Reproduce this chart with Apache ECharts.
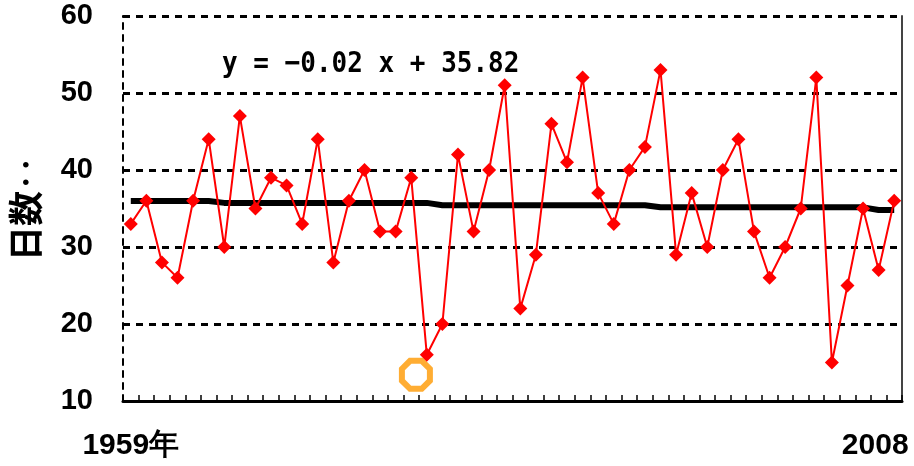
<!DOCTYPE html>
<html>
<head>
<meta charset="utf-8">
<script src="https://cdn.jsdelivr.net/npm/echarts@6/dist/echarts.min.js"></script>
<style>html,body{margin:0;padding:0;background:#fff;}#c{width:914px;height:466px;}</style>
</head>
<body>
<div id="c"></div>
<script>
const years = ['1959','1960','1961','1962','1963','1964','1965','1966','1967','1968',
  '1969','1970','1971','1972','1973','1974','1975','1976','1977','1978',
  '1979','1980','1981','1982','1983','1984','1985','1986','1987','1988',
  '1989','1990','1991','1992','1993','1994','1995','1996','1997','1998',
  '1999','2000','2001','2002','2003','2004','2005','2006','2007','2008'];
const days = [33,36,28,26,36,44,30,47,35,39,
  38,33,44,28,36,40,32,32,39,16,
  20,42,32,40,51,22,29,46,41,52,
  37,33,40,43,53,29,37,30,40,44,
  32,26,30,35,52,15,25,35,27,36];
const trend = [35.97,35.97,35.97,35.97,35.97,35.97,35.73,35.73,35.73,35.73,
  35.73,35.73,35.73,35.73,35.73,35.73,35.73,35.73,35.73,35.73,
  35.43,35.43,35.43,35.43,35.43,35.43,35.43,35.43,35.43,35.43,
  35.43,35.43,35.43,35.43,35.15,35.15,35.15,35.15,35.15,35.15,
  35.15,35.15,35.15,35.15,35.15,35.15,35.15,35.15,34.8,34.8];
const highlight = [[1977.3, 13.4]];
const yTicks = {min: 10, max: 60, interval: 10};
const equation = 'y = −0.02 x + 35.82';
const yName = '日数‥';

const chart = echarts.init(document.getElementById('c'), null, {renderer: 'canvas'});
const labelFont = {fontFamily: 'Liberation Sans', fontWeight: 'bold', fontSize: 29, color: '#000'};
chart.setOption({
  animation: false,
  backgroundColor: '#fff',
  grid: {left: 122, right: 12, top: 16, bottom: 65, containLabel: false},
  xAxis: [{
    type: 'category', data: years, boundaryGap: true,
    axisLine: {show: true, lineStyle: {color: '#000', width: 3}},
    axisTick: {show: true, inside: true, length: 6, interval: 0, lineStyle: {color: '#000', width: 1.5}},
    splitLine: {show: false},
    axisLabel: {
      interval: function (i) { return i === 0 || i === years.length - 1; },
      margin: 30,
      fontFamily: 'Liberation Sans', fontWeight: 'bold', fontSize: 30, color: '#000',
      formatter: function (v, i) {
        if (i === 0) return v + '年';
        return '{r|' + v + '}';
      },
      rich: {r: {fontFamily: 'Liberation Sans', fontWeight: 'bold', fontSize: 30, color: '#000', padding: [0, 38, 0, 0]}}
    }
  }, {
    type: 'value', min: 1958.5, max: 2008.5, show: false
  }],
  yAxis: [{
    type: 'value', min: yTicks.min, max: yTicks.max, interval: yTicks.interval,
    name: yName, nameLocation: 'middle', nameRotate: 90, nameGap: 80,
    nameTextStyle: {fontFamily: 'Noto Sans CJK JP', fontWeight: 'bold', fontSize: 35, color: '#000'},
    axisLine: {show: true, lineStyle: {color: '#000', width: 2, type: [6, 6]}},
    axisTick: {show: true, inside: true, length: 5, lineStyle: {color: '#000', width: 1.5}},
    axisLabel: Object.assign({margin: 30}, labelFont),
    splitLine: {show: true, lineStyle: {color: '#000', width: 3, type: [7, 6]}}
  }, {
    type: 'value', position: 'right', min: yTicks.min, max: yTicks.max, interval: yTicks.interval,
    axisLine: {show: true, lineStyle: {color: '#444', width: 2}},
    axisTick: {show: false}, axisLabel: {show: false}, splitLine: {show: false}
  }],
  graphic: [{
    type: 'text', left: 222, top: 50, scaleY: 1.12,
    style: {text: equation, fontFamily: 'DejaVu Sans Mono', fontWeight: 'bold', fontSize: 26, fill: '#000'}
  }],
  series: [{
    type: 'scatter', xAxisIndex: 1, yAxisIndex: 0, data: highlight,
    symbol: 'path://M7,0 L17,0 L24,7 L24,17 L17,24 L7,24 L0,17 L0,7 Z',
    symbolSize: 28,
    itemStyle: {color: 'rgba(0,0,0,0)', borderColor: '#FF9900', borderWidth: 6},
    z: 2
  }, {
    type: 'line', data: trend, symbol: 'none',
    lineStyle: {color: '#000', width: 6}, z: 3
  }, {
    type: 'line', data: days, symbol: 'diamond', symbolSize: 14, showAllSymbol: true,
    lineStyle: {color: '#FF0000', width: 2},
    itemStyle: {color: '#FF0000'}, z: 4
  }]
});
</script>
</body>
</html>
